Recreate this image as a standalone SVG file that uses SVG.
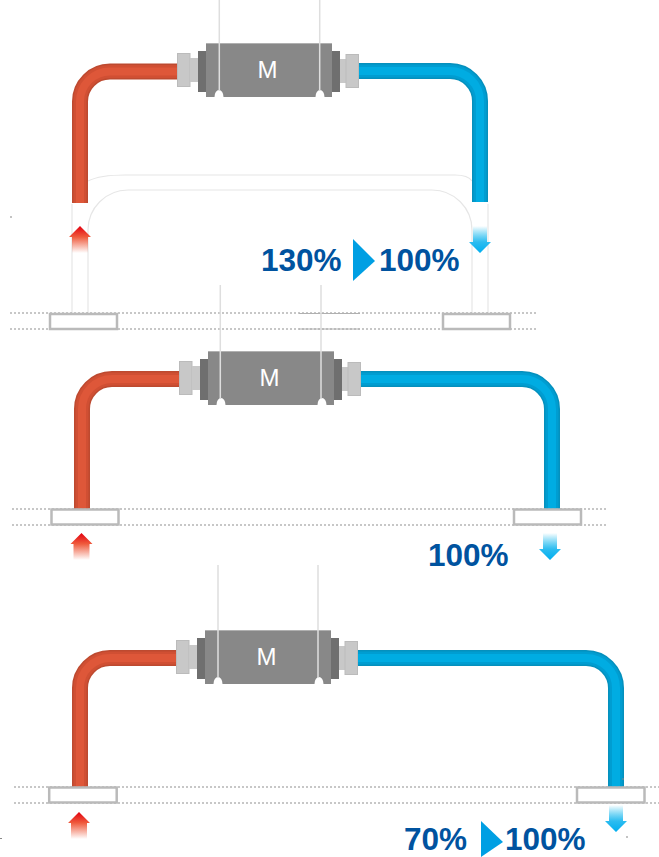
<svg xmlns="http://www.w3.org/2000/svg" width="659" height="857" viewBox="0 0 659 857">
<style>
.ghost{fill:none;stroke:#e6e6e6;stroke-width:1.2}
.plate{fill:#fff;stroke:#bababa;stroke-width:2.5}
.dot{fill:none;stroke:#8f8f8f;stroke-width:1;stroke-dasharray:2 2}
.wire{stroke:#dedede;stroke-width:1.5;fill:none}
.pct{font:bold 31.500px "Liberation Sans",Arial,sans-serif;fill:#00539f}
.ml{font:24px "Liberation Sans",Arial,sans-serif;fill:#fff;text-anchor:middle}
.pipes path{fill:none}
.r1{stroke:#bd4a30;stroke-width:16}
.r2{stroke:#d04f33;stroke-width:13}
.r3{stroke:#de5739;stroke-width:8}
.b1{stroke:#0590bd;stroke-width:16}
.b2{stroke:#009dd1;stroke-width:13}
.b3{stroke:#00ace2;stroke-width:8}
.tri{fill:#009fe3}
.speck{fill:#888}
</style>
<defs>
<linearGradient id="ur" x1="0" y1="0" x2="0" y2="1"><stop offset="0" stop-color="#e3000f"/><stop offset=".4" stop-color="#ef5a3c"/><stop offset="1" stop-color="#ef5a3c" stop-opacity="0"/></linearGradient>
<linearGradient id="db" x1="0" y1="0" x2="0" y2="1"><stop offset="0" stop-color="#00b4ec" stop-opacity="0"/><stop offset=".6" stop-color="#2cbcf0"/><stop offset="1" stop-color="#00aeef"/></linearGradient>
<g id="up"><path d="M0 0L11 11H8V27H-8V11H-11Z" fill="url(#ur)"/></g>
<g id="down"><path d="M-7 0H7V16H11L0 27L-11 16H-7Z" fill="url(#db)"/></g>
<g id="redp" class="pipes">
<path d="M177 71.500H110A30 30 0 0 0 80 101.500V203"/>
<path d="M179 379H112A30 30 0 0 0 82 409V509"/>
<path d="M176 658H110A30 30 0 0 0 80 688V787"/>
</g>
<g id="blup" class="pipes">
<path d="M359 71H450A30 30 0 0 1 480 101V202"/>
<path d="M361 379H522A30 30 0 0 1 552 409V509"/>
<path d="M358 658H586A30 30 0 0 1 616 688V787"/>
</g>
<g id="motor">
<rect x="177.500" y="53.500" width="12.500" height="33" fill="#c8c8c8" stroke="#bbb"/>
<rect x="190" y="58" width="8" height="24" fill="#c8c8c8"/>
<rect x="198" y="51" width="8" height="41" fill="#6f6f6f"/>
<rect x="340" y="59" width="6" height="24" fill="#c8c8c8"/>
<rect x="346" y="54.500" width="12.500" height="33" fill="#c8c8c8" stroke="#bbb"/>
<rect x="332" y="51" width="8" height="41" fill="#6f6f6f"/>
<path d="M206 43H332V97H206Z" fill="#888"/>
<path d="M206 43.500H332" stroke="#b0b0b0" stroke-width="1"/>
<path d="M214.500 97a4.500 7 0 0 1 9 0ZM315.500 97a4.500 7 0 0 1 9 0Z" fill="#fff"/>
<text class="ml" x="267.500" y="78">M</text>
</g>
</defs>
<g id="connectors">
<path class="ghost" d="M72 204V313M88 313V230A40 40 0 0 1 128 190H432A40 40 0 0 1 472 230V313M488 204V313"/>
<path class="ghost" d="M88 181Q100 175 125 175H455Q468 175 472 181"/>
<use href="#redp" class="r1"/><use href="#redp" class="r2"/><use href="#redp" class="r3"/>
<use href="#blup" class="b1"/><use href="#blup" class="b2"/><use href="#blup" class="b3"/>
</g>
<g id="guides">
<path class="dot" d="M10 313H536M10 329H536M12 509H607M12 525H607M14 787H659M14 803H659"/>
<path d="M299 313.500H360M299 329H360" stroke="#b0b0b0" stroke-width="1"/>
<path class="speck" d="M10 216.500h2v1h-2zM622 778.500h2v1h-2zM626 836.500h2v1h-2zM0 838h2v1h-2z"/>
</g>
<g id="unit1">
<use href="#motor"/>
<rect class="plate" x="50" y="314" width="67" height="15"/>
<rect class="plate" x="443" y="314" width="67" height="15"/>
<use href="#up" x="80" y="226"/>
<use href="#down" x="480" y="226"/>
<text class="pct" x="261" y="271">130%</text>
<path class="tri" d="M353 239L375 261L353 281Z"/>
<text class="pct" x="379" y="271">100%</text>
</g>
<g id="unit2">
<use href="#motor" x="2" y="308"/>
<rect class="plate" x="51.500" y="509.500" width="67" height="15"/>
<rect class="plate" x="514" y="509.500" width="67" height="15"/>
<use href="#up" x="81.500" y="533"/>
<use href="#down" x="550" y="533"/>
<text class="pct" x="428" y="566">100%</text>
</g>
<g id="unit3">
<use href="#motor" x="-1" y="587"/>
<rect class="plate" x="49.200" y="787.500" width="67.500" height="15"/>
<rect class="plate" x="577" y="787.500" width="67.500" height="15"/>
<use href="#up" x="79" y="812"/>
<use href="#down" x="616" y="805"/>
<text class="pct" x="404" y="850">70%</text>
<path class="tri" d="M481 821L503 842L481 857Z"/>
<text class="pct" x="505" y="850">100%</text>
</g>
<g id="wires">
<path class="wire" d="M219.300 0V91M319.700 0V91M220.300 285V399M321 285V399M218 565V678M318 565V678"/>
</g>
</svg>
